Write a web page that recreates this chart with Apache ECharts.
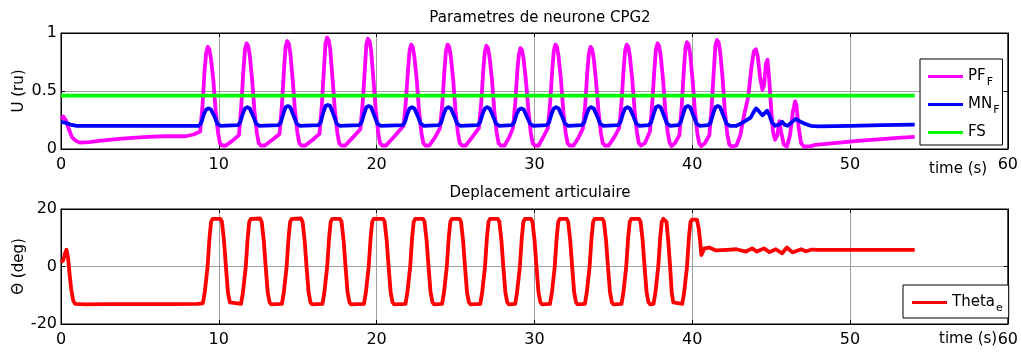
<!DOCTYPE html>
<html>
<head>
<meta charset="utf-8">
<script src="https://cdn.jsdelivr.net/npm/echarts@6/dist/echarts.min.js"></script>
<style>html,body{margin:0;padding:0;background:#fff;}#c{width:1021px;height:352px;}</style>
</head>
<body>
<div id="c"></div>
<script>
// ---- data (time in s, value) ----
const PF_F = [
[0,0.26],[0.15,0.28],[0.3,0.25],[0.5,0.17],[0.7,0.1],[0.95,0.07],[1.2,0.055],[1.8,0.06],[2.4,0.07],[3.5,0.085],[4.5,0.095],[5.5,0.105],[6.6,0.11],[7.9,0.11],[8.4,0.125],
[8.82,0.15],[8.97,0.38],[9.10,0.68],[9.20,0.83],[9.30,0.88],[9.40,0.86],[9.50,0.78],[9.65,0.60],[9.80,0.33],[9.95,0.14],[10.07,0.05],[10.20,0.03],[10.45,0.03],[10.85,0.07],
[11.28,0.12],[11.43,0.38],[11.56,0.68],[11.66,0.86],[11.76,0.91],[11.86,0.89],[11.96,0.81],[12.11,0.60],[12.26,0.33],[12.41,0.14],[12.53,0.05],[12.66,0.03],[12.91,0.03],[13.4,0.08],
[13.85,0.13],[14.00,0.38],[14.13,0.68],[14.23,0.88],[14.33,0.93],[14.43,0.91],[14.53,0.83],[14.68,0.60],[14.83,0.33],[14.98,0.14],[15.10,0.05],[15.23,0.03],[15.48,0.03],[15.95,0.08],
[16.38,0.13],[16.53,0.38],[16.66,0.68],[16.76,0.91],[16.86,0.96],[16.96,0.94],[17.06,0.86],[17.21,0.60],[17.36,0.33],[17.51,0.14],[17.63,0.05],[17.76,0.03],[18.01,0.03],[18.5,0.1],
[18.97,0.17],[19.12,0.40],[19.25,0.68],[19.35,0.90],[19.45,0.95],[19.55,0.93],[19.65,0.85],[19.80,0.60],[19.95,0.33],[20.10,0.14],[20.22,0.05],[20.35,0.03],[20.60,0.03],[21.2,0.12],
[21.71,0.20],[21.86,0.42],[21.99,0.68],[22.09,0.85],[22.19,0.90],[22.29,0.88],[22.39,0.80],[22.54,0.60],[22.69,0.33],[22.84,0.14],[22.96,0.05],[23.09,0.03],[23.34,0.03],[23.7,0.1],
[24.02,0.18],[24.17,0.40],[24.30,0.68],[24.40,0.85],[24.50,0.90],[24.60,0.88],[24.70,0.80],[24.85,0.60],[25.00,0.33],[25.15,0.14],[25.27,0.05],[25.40,0.03],[25.65,0.03],[26.05,0.1],
[26.48,0.18],[26.63,0.40],[26.76,0.68],[26.86,0.84],[26.96,0.89],[27.06,0.87],[27.16,0.79],[27.31,0.60],[27.46,0.33],[27.61,0.14],[27.73,0.05],[27.86,0.03],[28.11,0.03],[28.4,0.1],
[28.64,0.18],[28.79,0.40],[28.92,0.68],[29.02,0.82],[29.12,0.87],[29.22,0.85],[29.32,0.77],[29.47,0.58],[29.62,0.33],[29.77,0.14],[29.89,0.05],[30.02,0.03],[30.27,0.03],[30.55,0.1],
[30.85,0.18],[31.00,0.40],[31.13,0.68],[31.23,0.85],[31.33,0.90],[31.43,0.88],[31.53,0.80],[31.68,0.60],[31.83,0.33],[31.98,0.14],[32.10,0.05],[32.23,0.03],[32.48,0.03],[32.8,0.1],
[33.08,0.18],[33.23,0.40],[33.36,0.68],[33.46,0.83],[33.56,0.88],[33.66,0.86],[33.76,0.78],[33.91,0.58],[34.06,0.33],[34.21,0.14],[34.33,0.05],[34.46,0.03],[34.71,0.03],[35.05,0.1],
[35.37,0.18],[35.52,0.40],[35.65,0.68],[35.75,0.85],[35.85,0.90],[35.95,0.88],[36.05,0.80],[36.20,0.60],[36.35,0.33],[36.50,0.14],[36.62,0.05],[36.75,0.03],[37.0,0.05],
[37.32,0.15],[37.47,0.40],[37.60,0.68],[37.70,0.86],[37.80,0.91],[37.90,0.89],[38.00,0.81],[38.15,0.60],[38.30,0.33],[38.45,0.14],[38.57,0.05],[38.70,0.025],[38.9,0.05],
[39.19,0.12],[39.34,0.38],[39.47,0.68],[39.57,0.87],[39.67,0.92],[39.77,0.90],[39.87,0.82],[40.02,0.60],[40.17,0.33],[40.32,0.14],[40.44,0.05],[40.57,0.025],[40.8,0.05],
[41.09,0.12],[41.24,0.38],[41.37,0.68],[41.47,0.89],[41.57,0.94],[41.67,0.92],[41.77,0.84],[41.92,0.62],[42.07,0.33],[42.22,0.13],[42.35,0.04],[42.5,0.02],[42.8,0.03],
[43.05,0.12],[43.3,0.3],[43.55,0.45],[43.75,0.7],[43.9,0.84],[44.03,0.86],[44.15,0.8],[44.3,0.62],[44.45,0.51],[44.55,0.55],[44.68,0.74],[44.77,0.77],[44.88,0.6],[45.0,0.35],[45.12,0.15],[45.25,0.08],[45.4,0.12],[45.52,0.24],[45.65,0.14],[45.8,0.04],[46.0,0.02],[46.2,0.12],[46.38,0.32],[46.52,0.41],[46.6,0.38],[46.75,0.18],[46.9,0.05],[47.1,0.02],[47.5,0.025],[47.8,0.035],[49,0.05],[50.5,0.07],[52,0.085],[53,0.095],[54.1,0.105]
];
const MN_F = [
[0,0.235],[0.3,0.225],[0.6,0.21],[1.0,0.2],[3.0,0.2],[5.0,0.2],[7.0,0.2],[8.75,0.2],
[8.90,0.23],[9.05,0.30],[9.20,0.34],[9.35,0.35],[9.50,0.34],[9.70,0.29],[9.90,0.22],[10.10,0.2],[11.21,0.205],
[11.36,0.23],[11.51,0.30],[11.66,0.35],[11.81,0.36],[11.96,0.35],[12.16,0.29],[12.36,0.22],[12.56,0.2],[13.78,0.205],
[13.93,0.23],[14.08,0.30],[14.23,0.36],[14.38,0.37],[14.53,0.36],[14.73,0.29],[14.93,0.22],[15.13,0.2],[16.31,0.205],
[16.46,0.23],[16.61,0.31],[16.76,0.37],[16.91,0.38],[17.06,0.37],[17.26,0.30],[17.46,0.22],[17.66,0.2],[18.90,0.205],
[19.05,0.23],[19.20,0.30],[19.35,0.36],[19.50,0.37],[19.65,0.36],[19.85,0.29],[20.05,0.22],[20.25,0.2],[21.64,0.205],
[21.79,0.23],[21.94,0.30],[22.09,0.35],[22.24,0.36],[22.39,0.35],[22.59,0.29],[22.79,0.22],[22.99,0.2],[23.95,0.205],
[24.10,0.23],[24.25,0.30],[24.40,0.35],[24.55,0.36],[24.70,0.35],[24.90,0.29],[25.10,0.22],[25.30,0.2],[26.41,0.205],
[26.56,0.23],[26.71,0.30],[26.86,0.35],[27.01,0.36],[27.16,0.35],[27.36,0.29],[27.56,0.22],[27.76,0.2],[28.57,0.205],
[28.72,0.23],[28.87,0.30],[29.02,0.34],[29.17,0.35],[29.32,0.34],[29.52,0.28],[29.72,0.22],[29.92,0.2],[30.78,0.205],
[30.93,0.23],[31.08,0.30],[31.23,0.35],[31.38,0.36],[31.53,0.35],[31.73,0.29],[31.93,0.22],[32.13,0.2],[33.01,0.205],
[33.16,0.23],[33.31,0.30],[33.46,0.35],[33.61,0.36],[33.76,0.35],[33.96,0.29],[34.16,0.22],[34.36,0.2],[35.30,0.205],
[35.45,0.23],[35.60,0.30],[35.75,0.35],[35.90,0.36],[36.05,0.35],[36.25,0.29],[36.45,0.22],[36.65,0.2],[37.25,0.205],
[37.40,0.23],[37.55,0.30],[37.70,0.36],[37.85,0.37],[38.00,0.36],[38.20,0.29],[38.40,0.22],[38.60,0.2],[39.12,0.205],
[39.27,0.23],[39.42,0.30],[39.57,0.36],[39.72,0.37],[39.87,0.36],[40.07,0.29],[40.27,0.22],[40.47,0.2],[41.02,0.205],
[41.17,0.23],[41.32,0.30],[41.47,0.36],[41.62,0.37],[41.77,0.36],[41.97,0.29],[42.17,0.22],[42.37,0.2],
[42.8,0.2],[43.1,0.22],[43.4,0.245],[43.7,0.27],[43.9,0.32],[44.05,0.35],[44.2,0.33],[44.45,0.29],[44.6,0.31],[44.75,0.33],[44.9,0.29],[45.05,0.23],[45.25,0.2],[45.5,0.21],[45.7,0.235],[45.85,0.21],[46.05,0.2],[46.3,0.23],[46.55,0.26],[46.8,0.24],[47.1,0.22],[47.5,0.2],[48,0.195],[50,0.2],[52,0.205],[54.1,0.21]
];
const FS = [[0,0.46],[54.1,0.46]];
const THETA_E = [
[0,1.4],[0.15,2.2],[0.25,4.5],[0.35,5.8],[0.45,3],[0.55,-3],[0.65,-8],[0.78,-12],[0.9,-13],[1.5,-13.2],[3,-13.1],[5,-13.1],[7,-13.1],[8.6,-13.0],
[8.99,-12.8],[9.11,-9],[9.29,0],[9.41,10],[9.51,15.5],[9.61,16.6],[10.10,16.6],[10.20,15.5],[10.33,9],[10.45,0],[10.58,-9],[10.70,-12.5],[10.80,-13.1],
[11.41,-13],[11.53,-9],[11.71,0],[11.83,10],[11.93,15.5],[12.03,16.6],[12.62,16.7],[12.72,15.5],[12.85,9],[12.97,0],[13.10,-9],[13.22,-12.5],[13.32,-13.2],
[14.00,-13],[14.12,-9],[14.30,0],[14.42,10],[14.52,15.5],[14.62,16.6],[15.21,16.7],[15.31,15.5],[15.44,9],[15.56,0],[15.69,-9],[15.81,-12.5],[15.91,-13.2],
[16.57,-13],[16.69,-9],[16.87,0],[16.99,10],[17.09,15.5],[17.19,16.6],[17.68,16.6],[17.78,15.5],[17.91,9],[18.03,0],[18.16,-9],[18.28,-12.5],[18.38,-13.2],
[19.20,-13],[19.32,-9],[19.50,0],[19.62,10],[19.72,15.5],[19.82,16.6],[20.41,16.6],[20.51,15.5],[20.64,9],[20.76,0],[20.89,-9],[21.01,-12.5],[21.11,-13.2],
[21.83,-13],[21.95,-9],[22.13,0],[22.25,10],[22.35,15.5],[22.45,16.6],[22.94,16.6],[23.04,15.5],[23.17,9],[23.29,0],[23.42,-9],[23.54,-12.5],[23.64,-13.2],
[24.15,-13],[24.27,-9],[24.45,0],[24.57,10],[24.67,15.5],[24.77,16.6],[25.25,16.6],[25.35,15.5],[25.48,9],[25.60,0],[25.73,-9],[25.85,-12.5],[25.95,-13.2],
[26.57,-13],[26.69,-9],[26.87,0],[26.99,10],[27.09,15.5],[27.19,16.6],[27.68,16.6],[27.78,15.5],[27.91,9],[28.03,0],[28.16,-9],[28.28,-12.5],[28.38,-13.2],
[28.78,-13],[28.90,-9],[29.08,0],[29.20,10],[29.30,15.5],[29.40,16.6],[29.78,16.6],[29.88,15.5],[30.01,9],[30.13,0],[30.26,-9],[30.38,-12.5],[30.48,-13.2],
[30.99,-13],[31.11,-9],[31.29,0],[31.41,10],[31.51,15.5],[31.61,16.6],[32.04,16.6],[32.14,15.5],[32.27,9],[32.39,0],[32.52,-9],[32.64,-12.5],[32.74,-13.2],
[33.20,-13],[33.32,-9],[33.50,0],[33.62,10],[33.72,15.5],[33.82,16.6],[34.31,16.6],[34.41,15.5],[34.54,9],[34.66,0],[34.79,-9],[34.91,-12.5],[35.01,-13.2],
[35.52,-13],[35.64,-9],[35.82,0],[35.94,10],[36.04,15.5],[36.14,16.6],[36.63,16.6],[36.73,15.5],[36.86,9],[36.98,0],[37.11,-9],[37.23,-12.5],[37.33,-13.2],
[37.55,-13],[37.67,-9],[37.85,0],[37.97,10],[38.07,15.5],[38.17,16.6],[38.27,16.6],[38.37,15.5],[38.48,9],[38.60,0],[38.70,-9],[38.80,-12.5],[38.9,-13.1],
[39.37,-13],[39.49,-9],[39.67,0],[39.79,10],[39.89,15.5],[39.99,16.3],[40.3,16.3],[40.42,13],[40.5,9],[40.58,4],[40.66,3.8],[40.77,6.3],[41.08,6.6],[41.5,5.6],
[42.2,5.8],[42.8,6.0],[43.4,5.2],[43.8,6.3],[44.1,5.2],[44.55,6.3],[44.9,5.0],[45.3,6.0],[45.7,4.6],[46.0,6.6],[46.35,4.9],[46.9,6.0],[47.2,5.3],[47.6,5.9],[48.0,5.8],[50,5.8],[52,5.8],[54.1,5.8]
];
const X_TICKS = {min: 0, max: 60, interval: 10};
const U_TICKS = {min: 0, max: 1, interval: 0.5};
const TH_TICKS = {min: -20, max: 20, interval: 20};

const FONT = 'DejaVu Sans';
const chart = echarts.init(document.getElementById('c'), null, {renderer: 'canvas'});

function xAx(gi, pos, labels) {
  return {
    type: 'value', gridIndex: gi, position: pos,
    min: X_TICKS.min, max: X_TICKS.max, interval: X_TICKS.interval,
    axisLine: {show: true, onZero: false, lineStyle: {color: '#000', width: 1}},
    axisTick: {show: true, inside: true, length: 4, lineStyle: {color: '#000'}},
    axisLabel: {show: labels, color: '#000', fontFamily: FONT, fontSize: 16, margin: 8},
    splitLine: {show: labels, lineStyle: {color: '#a0a0a0', width: 1}}
  };
}
function yAx(gi, pos, t, labels, name) {
  return {
    type: 'value', gridIndex: gi, position: pos,
    min: t.min, max: t.max, interval: t.interval,
    name: labels ? name : '', nameLocation: 'middle', nameGap: 34, nameRotate: 90, nameMoveOverlap: false,
    nameTextStyle: {color: '#000', fontFamily: FONT, fontSize: 15},
    axisLine: {show: true, onZero: false, lineStyle: {color: '#000', width: 1}},
    axisTick: {show: true, inside: true, length: 4, lineStyle: {color: '#000'}},
    axisLabel: {show: labels, color: '#000', fontFamily: FONT, fontSize: 16, margin: 4},
    splitLine: {show: labels, lineStyle: {color: '#a0a0a0', width: 1}}
  };
}
const rich = {
  n: {fontFamily: FONT, fontSize: 15, color: '#000', lineHeight: 25},
  s: {fontFamily: FONT, fontSize: 11, color: '#000', lineHeight: 13, padding: [12, 0, 0, 1]}
};
const legendNames = {'PF_F': '{n|PF}{s|F}', 'MN_F': '{n|MN}{s|F}', 'FS': '{n|FS}{s| }', 'Theta_e': '{n|Theta}{s|e}'};

const option = {
  animation: false,
  backgroundColor: '#fff',
  title: [
    {text: 'Parametres de neurone CPG2', left: 535, top: 6, textAlign: 'center',
     textStyle: {fontFamily: FONT, fontSize: 15, fontWeight: 'normal', color: '#000'}},
    {text: 'Deplacement articulaire', left: 535, top: 181, textAlign: 'center',
     textStyle: {fontFamily: FONT, fontSize: 15, fontWeight: 'normal', color: '#000'}}
  ],
  grid: [
    {left: 61, top: 33, width: 951, height: 116, show: true, borderColor: '#000', borderWidth: 1, backgroundColor: '#fff'},
    {left: 61, top: 209, width: 951, height: 115, show: true, borderColor: '#000', borderWidth: 1, backgroundColor: '#fff'}
  ],
  xAxis: [xAx(0, 'bottom', true), xAx(0, 'top', false), xAx(1, 'bottom', true), xAx(1, 'top', false)],
  yAxis: [yAx(0, 'left', U_TICKS, true, 'U (ru)'), yAx(0, 'right', U_TICKS, false, ''),
          yAx(1, 'left', TH_TICKS, true, 'Θ (deg)'), yAx(1, 'right', TH_TICKS, false, '')],
  legend: [
    {data: ['PF_F', 'MN_F', 'FS'], orient: 'vertical', left: 920, top: 59, icon: 'rect', itemWidth: 35, itemHeight: 3, itemGap: 5,
     padding: [6, 3, 1, 8], borderColor: '#000', borderWidth: 1, backgroundColor: '#fff', selectedMode: false,
     formatter: n => legendNames[n], textStyle: {rich: rich}},
    {data: ['Theta_e'], orient: 'vertical', left: 903, top: 285, icon: 'rect', itemWidth: 35, itemHeight: 3,
     padding: [6, 6, 4, 9], borderColor: '#000', borderWidth: 1, backgroundColor: '#fff', selectedMode: false,
     formatter: n => legendNames[n], textStyle: {rich: rich}}
  ],
  graphic: [
    {type: 'text', left: 929, top: 162, style: {text: 'time (s)', font: '15px "DejaVu Sans"', fill: '#000'}},
    {type: 'text', left: 939, top: 332, style: {text: 'time (s)', font: '15px "DejaVu Sans"', fill: '#000'}}
  ],
  series: [
    {name: 'PF_F', type: 'line', xAxisIndex: 0, yAxisIndex: 0, data: PF_F, showSymbol: false, symbol: 'none',
     lineStyle: {color: '#ff00ff', width: 3.8, join: 'round'}, itemStyle: {color: '#ff00ff'}},
    {name: 'MN_F', type: 'line', xAxisIndex: 0, yAxisIndex: 0, data: MN_F, showSymbol: false, symbol: 'none',
     lineStyle: {color: '#0000ff', width: 3.8, join: 'round'}, itemStyle: {color: '#0000ff'}},
    {name: 'FS', type: 'line', xAxisIndex: 0, yAxisIndex: 0, data: FS, showSymbol: false, symbol: 'none',
     lineStyle: {color: '#00ff00', width: 3.6}, itemStyle: {color: '#00ff00'}},
    {name: 'Theta_e', type: 'line', xAxisIndex: 2, yAxisIndex: 2, data: THETA_E, showSymbol: false, symbol: 'none',
     lineStyle: {color: '#ff0000', width: 3.8, join: 'round'}, itemStyle: {color: '#ff0000'}}
  ]
};
chart.setOption(option);
</script>
</body>
</html>
